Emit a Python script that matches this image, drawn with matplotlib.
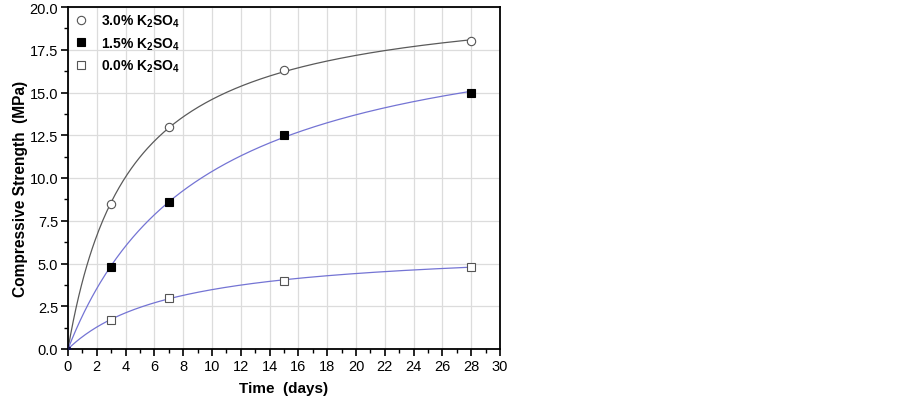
import numpy as np
import matplotlib.pyplot as plt
from matplotlib.ticker import MultipleLocator

plt.rcParams['font.family'] = ['Liberation Sans', 'DejaVu Sans']
plt.rcParams['mathtext.fontset'] = 'custom'
plt.rcParams['mathtext.bf'] = 'Liberation Sans:bold'
plt.rcParams['mathtext.rm'] = 'Liberation Sans:bold'

days = [0, 3, 7, 15, 28]
k3_0 = [0.0, 8.5, 13.0, 16.3, 18.0]
k1_5 = [0.0, 4.8, 8.6, 12.5, 15.0]
k0_0 = [0.0, 1.7, 3.0, 4.0, 4.8]


def hyper_fit(t, y):
    # fit y = a*t/(b+t), brute force over b
    t = np.asarray(t, float)
    y = np.asarray(y, float)
    best = None
    for b in np.linspace(0.1, 30, 3000):
        g = t / (b + t)
        a = (g @ y) / (g @ g)
        err = np.sum((a * g - y) ** 2)
        if best is None or err < best[0]:
            best = (err, a, b)
    return best[1], best[2]


fig = plt.figure(figsize=(9.02, 4.02), dpi=100)
ax = fig.add_axes([68 / 902, 52 / 402, 432 / 902, 342 / 402])

tt = np.linspace(0, 28, 300)
series = [
    (k3_0, '#5a5a5a', 'o', 'none', '3.0% K$_\\mathrm{2}$SO$_\\mathrm{4}$'),
    (k1_5, '#7474d4', 's', 'black', '1.5% K$_\\mathrm{2}$SO$_\\mathrm{4}$'),
    (k0_0, '#7474d4', 's', 'none', '0.0% K$_\\mathrm{2}$SO$_\\mathrm{4}$'),
]
for vals, lc, mk, fc, lab in series:
    a, b = hyper_fit(days, vals)
    ax.plot(tt, a * tt / (b + tt), color=lc, lw=0.9, zorder=2)
    mec = '#555555' if fc == 'none' else 'black'
    ax.plot(days[1:], vals[1:], ls='none', marker=mk, ms=6, mfc='white' if fc == 'none' else fc,
            mec=mec, mew=0.8, zorder=3, label=lab)
    ax.plot(days[:1], vals[:1], ls='none', marker='o', ms=3, mfc='#111144', mec='#111144', zorder=3)

ax.set_xlim(0, 30)
ax.set_ylim(0, 20)
ax.xaxis.set_major_locator(MultipleLocator(2))
ax.xaxis.set_minor_locator(MultipleLocator(1))
ax.yaxis.set_major_locator(MultipleLocator(2.5))
ax.yaxis.set_minor_locator(MultipleLocator(1.25))
ax.yaxis.set_major_formatter(plt.FormatStrFormatter('%.1f'))
ax.grid(True, which='major', color='#dcdcdc', lw=0.9, zorder=0)
ax.set_axisbelow(True)
ax.tick_params(which='major', direction='out', length=5, width=1.2, labelsize=10.5, pad=2)
ax.tick_params(which='minor', direction='out', length=3, width=1.0)
for s in ax.spines.values():
    s.set_linewidth(1.3)

ax.set_xlabel('Time  (days)', fontsize=11, fontweight='bold', labelpad=6)
ax.set_ylabel('Compressive Strength  (MPa)', fontsize=11.2, fontweight='bold', labelpad=1)
ax.yaxis.label.set_y(0.47)

leg = ax.legend(loc='upper left', frameon=False, prop={'weight': 'bold', 'size': 10},
                handlelength=1.0, handletextpad=1.0, labelspacing=0.45,
                borderaxespad=0.0, bbox_to_anchor=(0.0, 1.0))

fig.savefig('out.png', dpi=100)
